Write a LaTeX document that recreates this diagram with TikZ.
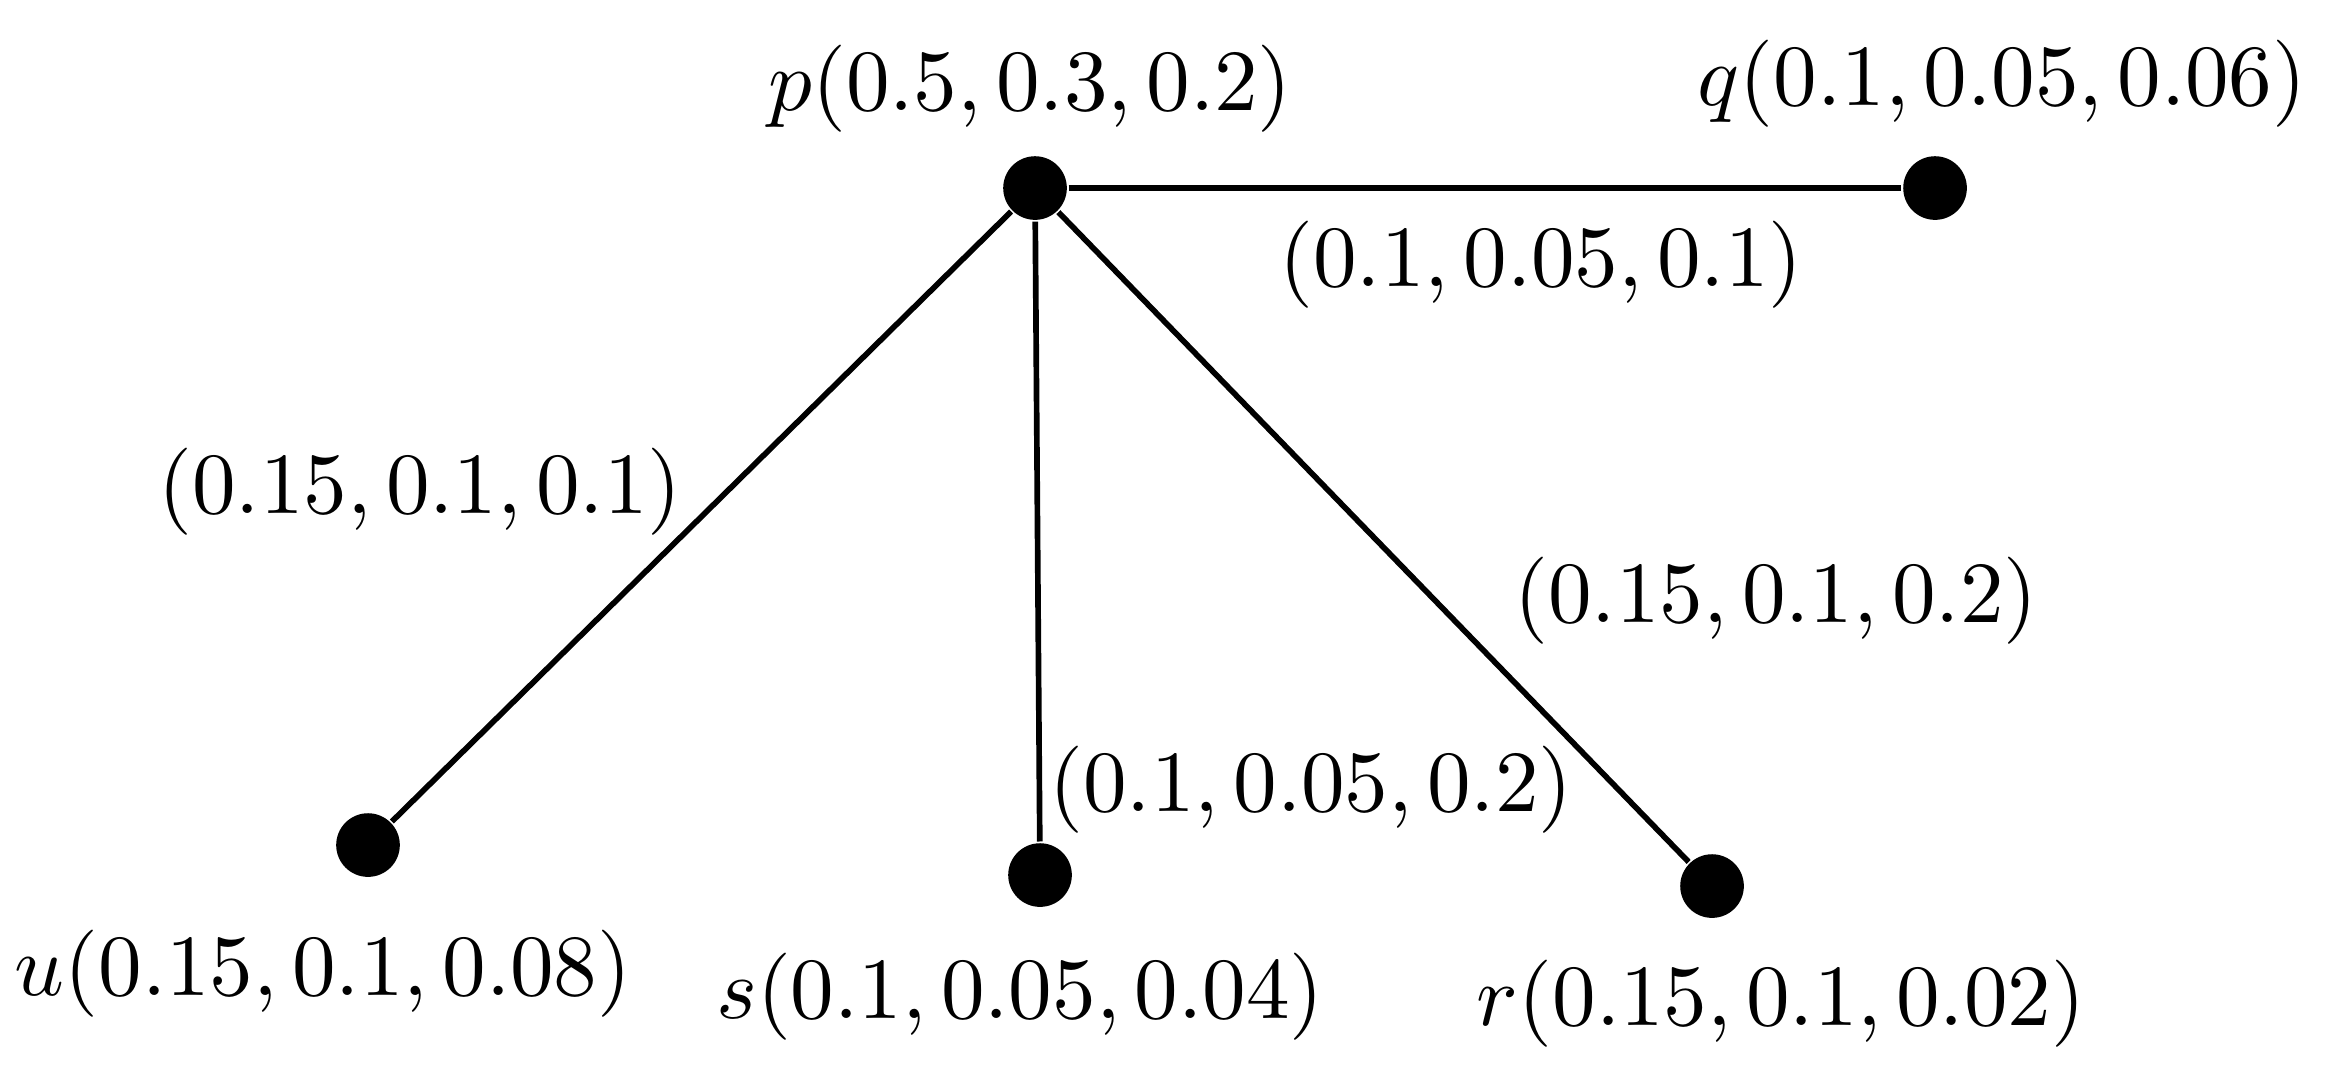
\documentclass[tikz,border=0pt]{standalone}
\begin{document}
\begin{tikzpicture}[x=0.1147pt,y=-0.1147pt,
  dot/.style={circle,fill=black,draw=none,inner sep=0pt,minimum size=7.3pt},
  edge/.style={line width=0.65pt},
  lbl/.style={inner sep=0pt,anchor=base,font=\fontsize{10.15pt}{12pt}\selectfont}]
\useasboundingbox (0,0) rectangle (2335,1083);
\node[dot] (p) at (1035,188) {};
\node[dot] (q) at (1935,188) {};
\node[dot] (u) at (368,845) {};
\node[dot] (s) at (1040,875) {};
\node[dot] (r) at (1712,886) {};
\draw[edge] (p) -- (q);
\draw[edge] (p) -- (u);
\draw[edge] (p) -- (s);
\draw[edge] (p) -- (r);
\node[lbl] (lp) at (1030,110) {$p(0.5,0.3,0.2)$};
\node[lbl] (lq) at (2002,105) {$q(0.1,0.05,0.06)$};
\node[lbl] (lu) at (323,995) {$u(0.15,0.1,0.08)$};
\node[lbl] (ls) at (1020,1018) {$s(0.1,0.05,0.04)$};
\node[lbl] (lr) at (1781,1025) {$r(0.15,0.1,0.02)$};
\node[lbl] (epq) at (1541,286) {$(0.1,0.05,0.1)$};
\node[lbl] (epu) at (420,513) {$(0.15,0.1,0.1)$};
\node[lbl] (eps) at (1311,811) {$(0.1,0.05,0.2)$};
\node[lbl] (epr) at (1776,622) {$(0.15,0.1,0.2)$};
\end{tikzpicture}
\end{document}
